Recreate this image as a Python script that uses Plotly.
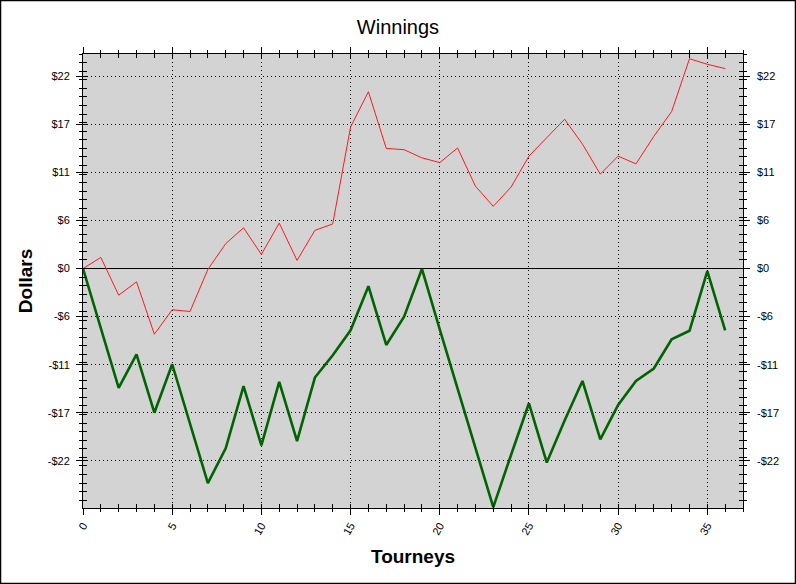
import plotly.graph_objects as go

tourneys = list(range(37))
red_vals = [0.0, 1.3, -3.1, -1.55, -7.65, -4.8, -5.0, -0.1, 2.9, 4.75, 1.65, 5.3, 0.95, 4.45,
            5.2, 16.5, 20.6, 14.0, 13.85, 12.9, 12.35, 14.05, 9.6, 7.25, 9.5, 13.1, 15.25,
            17.4, 14.5, 11.0, 13.1, 12.2, 15.4, 18.3, 24.45, 23.8, 23.3]
green_vals = [0.0, -6.95, -13.9, -10.0, -16.8, -11.15, -18.1, -25.0, -20.95, -13.7, -20.6,
              -13.2, -20.1, -12.7, -10.1, -7.2, -2.05, -8.9, -5.6, -0.05, -7.1, -14.0,
              -20.9, -27.8, -21.7, -15.7, -22.6, -17.7, -13.1, -19.9, -15.9, -13.1, -11.65,
              -8.25, -7.25, -0.3, -7.2]

y_tickvals = [-22.4, -16.8, -11.2, -5.6, 0, 5.6, 11.2, 16.8, 22.4]
y_ticktext = ['-$22', '-$17', '-$11', '-$6', '$0', '$6', '$11', '$17', '$22']
x_tickvals = [0, 5, 10, 15, 20, 25, 30, 35]

X_RANGE = [0, 37]
Y_RANGE = [-27.9, 25.0]

fig = go.Figure()
fig.add_trace(go.Scatter(x=tourneys, y=red_vals, mode='lines',
                         line=dict(color='#ff1a1a', width=1), showlegend=False, hoverinfo='skip'))
fig.add_trace(go.Scatter(x=tourneys, y=green_vals, mode='lines',
                         line=dict(color='#006400', width=2.6), showlegend=False, hoverinfo='skip'))
# dummy trace to activate overlay axes (right labels / inner ticks)
fig.add_trace(go.Scatter(x=[None], y=[None], xaxis='x2', yaxis='y2', mode='lines',
                         showlegend=False, hoverinfo='skip'))

L, R, T, B = 83, 53, 54, 76
W, H = 796, 584
pw, ph = W - L - R, H - T - B

FONT = 'Liberation Sans, Arial, sans-serif'
tickfont = dict(family=FONT, size=11, color='#000000')
GRIDDASH = '1px,3px'

fig.update_layout(
    width=W, height=H,
    margin=dict(l=L, r=R, t=T, b=B, pad=0),
    paper_bgcolor='white',
    plot_bgcolor='#d3d3d3',
    title=dict(text='Winnings', x=0.5, xanchor='center', y=1 - 27 / H, yanchor='middle',
               font=dict(family=FONT, size=20, color='black')),
    xaxis=dict(range=X_RANGE, tickmode='array', tickvals=x_tickvals,
               ticks='outside', ticklen=6, tickcolor='black', tickwidth=1,
               minor=dict(dtick=1, tick0=0, ticks='outside', ticklen=3, tickcolor='black', showgrid=False),
               mirror='allticks', showline=True, linecolor='black', linewidth=1,
               showgrid=True, gridcolor='black', griddash=GRIDDASH, gridwidth=1,
               zeroline=False, tickangle=-60, tickfont=tickfont,
               title=dict(text='<b>Tourneys</b>', standoff=13,
                          font=dict(family=FONT, size=19, color='black'))),
    xaxis2=dict(range=X_RANGE, overlaying='x', side='top', tickmode='array', tickvals=x_tickvals,
                ticks='inside', ticklen=4, tickcolor='black',
                minor=dict(dtick=1, tick0=0, ticks='inside', ticklen=4, tickcolor='black', showgrid=False),
                mirror='allticks', showline=False, showgrid=False, zeroline=False,
                showticklabels=False),
    yaxis=dict(range=Y_RANGE, tickmode='array', tickvals=y_tickvals, ticktext=y_ticktext,
               ticks='outside', ticklen=6, tickcolor='black', tickwidth=1,
               minor=dict(dtick=1, tick0=0, ticks='outside', ticklen=3, tickcolor='black', showgrid=False),
               mirror='allticks', showline=True, linecolor='black', linewidth=1,
               showgrid=True, gridcolor='black', griddash=GRIDDASH, gridwidth=1,
               zeroline=True, zerolinecolor='black', zerolinewidth=1,
               tickfont=tickfont, ticklabelstandoff=4,
               title=dict(text='<b>Dollars</b>', standoff=10,
                          font=dict(family=FONT, size=19, color='black'))),
    yaxis2=dict(range=Y_RANGE, overlaying='y', side='right', tickmode='array',
                tickvals=y_tickvals, ticktext=y_ticktext,
                ticks='inside', ticklen=4, tickcolor='black',
                minor=dict(dtick=1, tick0=0, ticks='inside', ticklen=4, tickcolor='black', showgrid=False),
                mirror='allticks', showline=False, showgrid=False, zeroline=False,
                tickfont=tickfont, ticklabelstandoff=13),
    shapes=[dict(type='rect', xref='paper', yref='paper',
                 x0=(0.5 - L) / pw, x1=(W - 0.5 - L) / pw,
                 y0=(T + ph - (H - 0.5)) / ph, y1=(T + ph - 0.5) / ph,
                 line=dict(color='black', width=1.5), fillcolor='rgba(0,0,0,0)', layer='above')],
)

fig.write_html('out.html', config={'displayModeBar': False},
               post_script="document.body.style.margin='0';")
